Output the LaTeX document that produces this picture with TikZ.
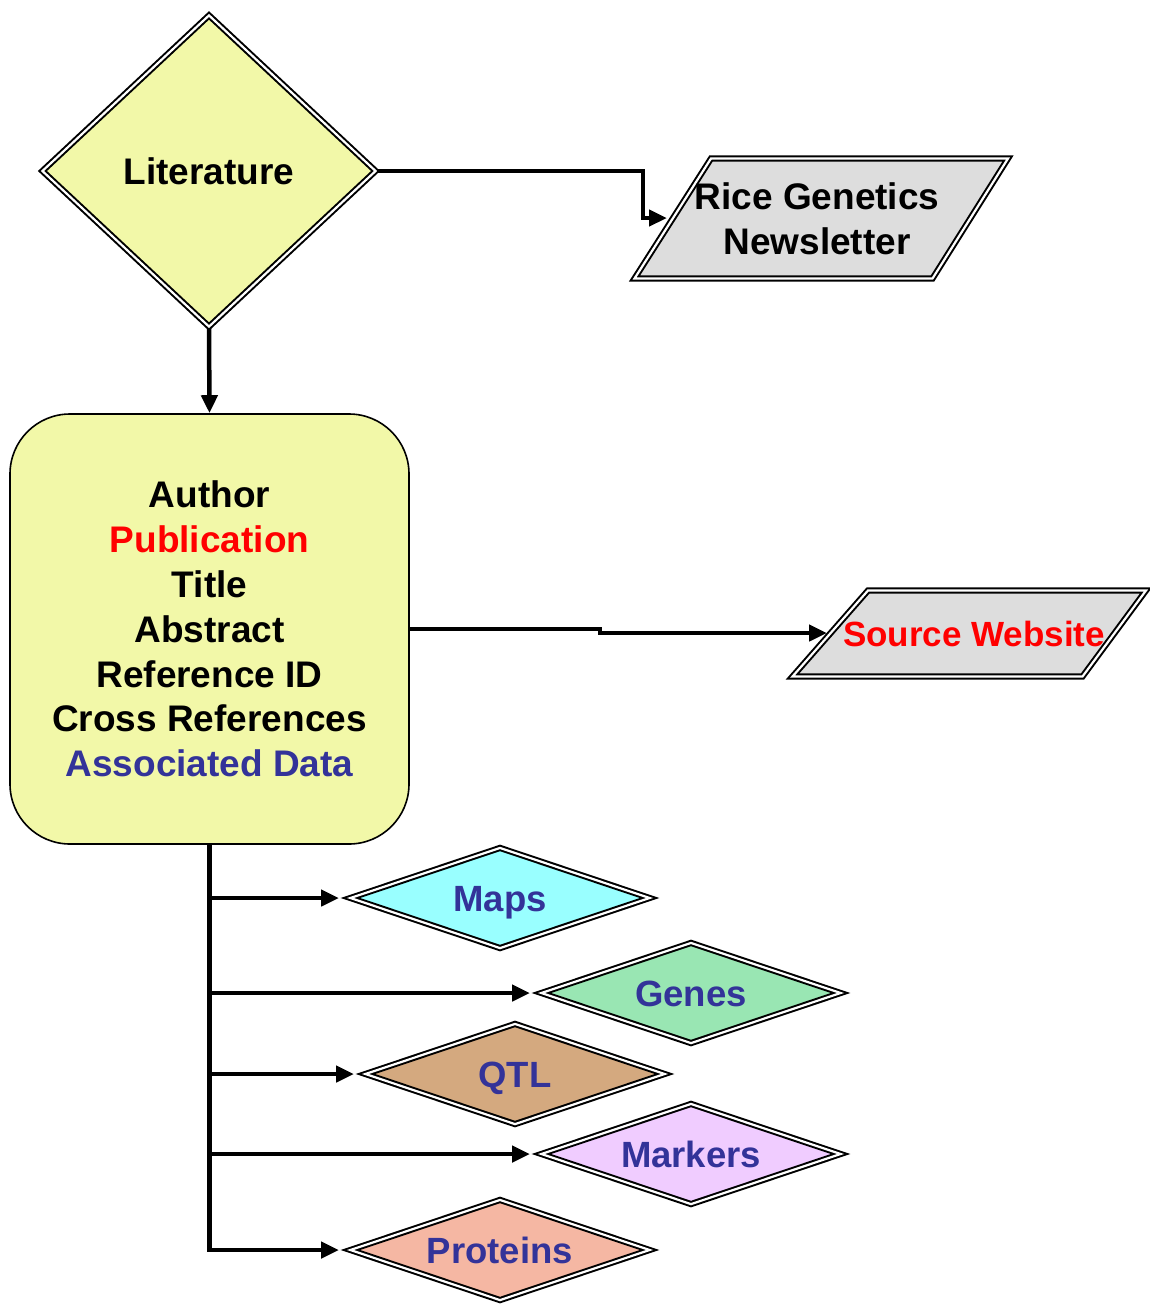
\documentclass[tikz,border=0pt]{standalone}
\usepackage{fontspec}
\setmainfont{Liberation Sans}
\usetikzlibrary{shapes.geometric,arrows.meta}
\definecolor{yellowfill}{HTML}{F2F8A8}
\definecolor{grayfill}{HTML}{DDDDDD}
\definecolor{cyanfill}{HTML}{99FFFF}
\definecolor{greenfill}{HTML}{99E6B3}
\definecolor{tanfill}{HTML}{D4A97F}
\definecolor{lavfill}{HTML}{F0CCFF}
\definecolor{salmonfill}{HTML}{F5B7A3}
\definecolor{navytext}{HTML}{333399}
\definecolor{redtext}{HTML}{FF0000}
\begin{document}
\begin{tikzpicture}[x=1pt,y=-1pt,
  txt/.style={font=\bfseries\fontsize{37}{44.8}\selectfont, inner sep=0pt},
  dbl/.style={draw=black, line width=2pt, double=white, double distance=2.2pt, line join=miter},
  flatdia/.style={dbl, diamond, shape aspect=3, inner sep=0pt, minimum width=300pt, minimum height=101pt,
     text height=26pt, text depth=0pt,
     font=\bfseries\fontsize{36.5}{44.8}\selectfont, text=navytext},
  conn/.style={draw=black, line width=4.5pt, line join=miter, -{Triangle[length=18pt,width=16pt]}},
  feed/.style={conn, shorten >=10pt}
]
\useasboundingbox (0,0) rectangle (1150,1304);

% Literature diamond
\node[dbl, diamond, fill=yellowfill, inner sep=0pt, minimum width=334pt, minimum height=312pt,
      txt] (lit) at (209,171) {Literature};

% Rice Genetics Newsletter parallelogram
\draw[dbl, fill=grayfill] (711,158.5) -- (1008,158.5) -- (932.5,278.5) -- (634.5,278.5) -- cycle;
\node[txt, align=center] (news) at (817,219) {Rice Genetics\\Newsletter};
\coordinate (newsL) at (667,218);
\coordinate (bend) at (643,218);

% Author box
\node[draw=black, line width=1.6pt, fill=yellowfill, rounded corners=60pt,
      minimum width=399pt, minimum height=430pt, align=center, txt] (author) at (209.5,629)
  {Author\\ \textcolor{redtext}{Publication}\\ Title\\ Abstract\\ Reference ID\\ Cross References\\ \textcolor{navytext}{Associated Data}};

% Source Website parallelogram
\draw[dbl, fill=grayfill] (868,590.5) -- (1146,590.5) -- (1082.5,676.5) -- (792.5,676.5) -- cycle;
\node[txt, font=\bfseries\fontsize{35}{40}\selectfont, text=redtext] (src) at (974,634) {Source Website};
\coordinate (srcL) at (827,633);
\coordinate (jog) at (600,633);

% Data diamonds
\node[flatdia, fill=cyanfill]   (maps)     at (500,898)  {Maps};
\node[flatdia, fill=greenfill]  (genes)    at (691,993)  {Genes};
\node[flatdia, fill=tanfill]    (qtl)      at (515,1074) {QTL};
\node[flatdia, fill=lavfill]    (markers)  at (691,1154) {Markers};
\node[flatdia, fill=salmonfill] (proteins) at (500,1250) {Proteins};

% Connectors
\draw[conn] (lit.east) -| (bend) -- (newsL);
\draw[conn] (lit.south) -- (author.north);
\draw[conn] (author.east) -| (jog) -- (srcL);
\draw[feed] (author.south) |- (proteins.west);
\draw[feed] (author.south |- maps.west) -- (maps.west);
\draw[feed] (author.south |- genes.west) -- (genes.west);
\draw[feed] (author.south |- qtl.west) -- (qtl.west);
\draw[feed] (author.south |- markers.west) -- (markers.west);
\end{tikzpicture}
\end{document}
